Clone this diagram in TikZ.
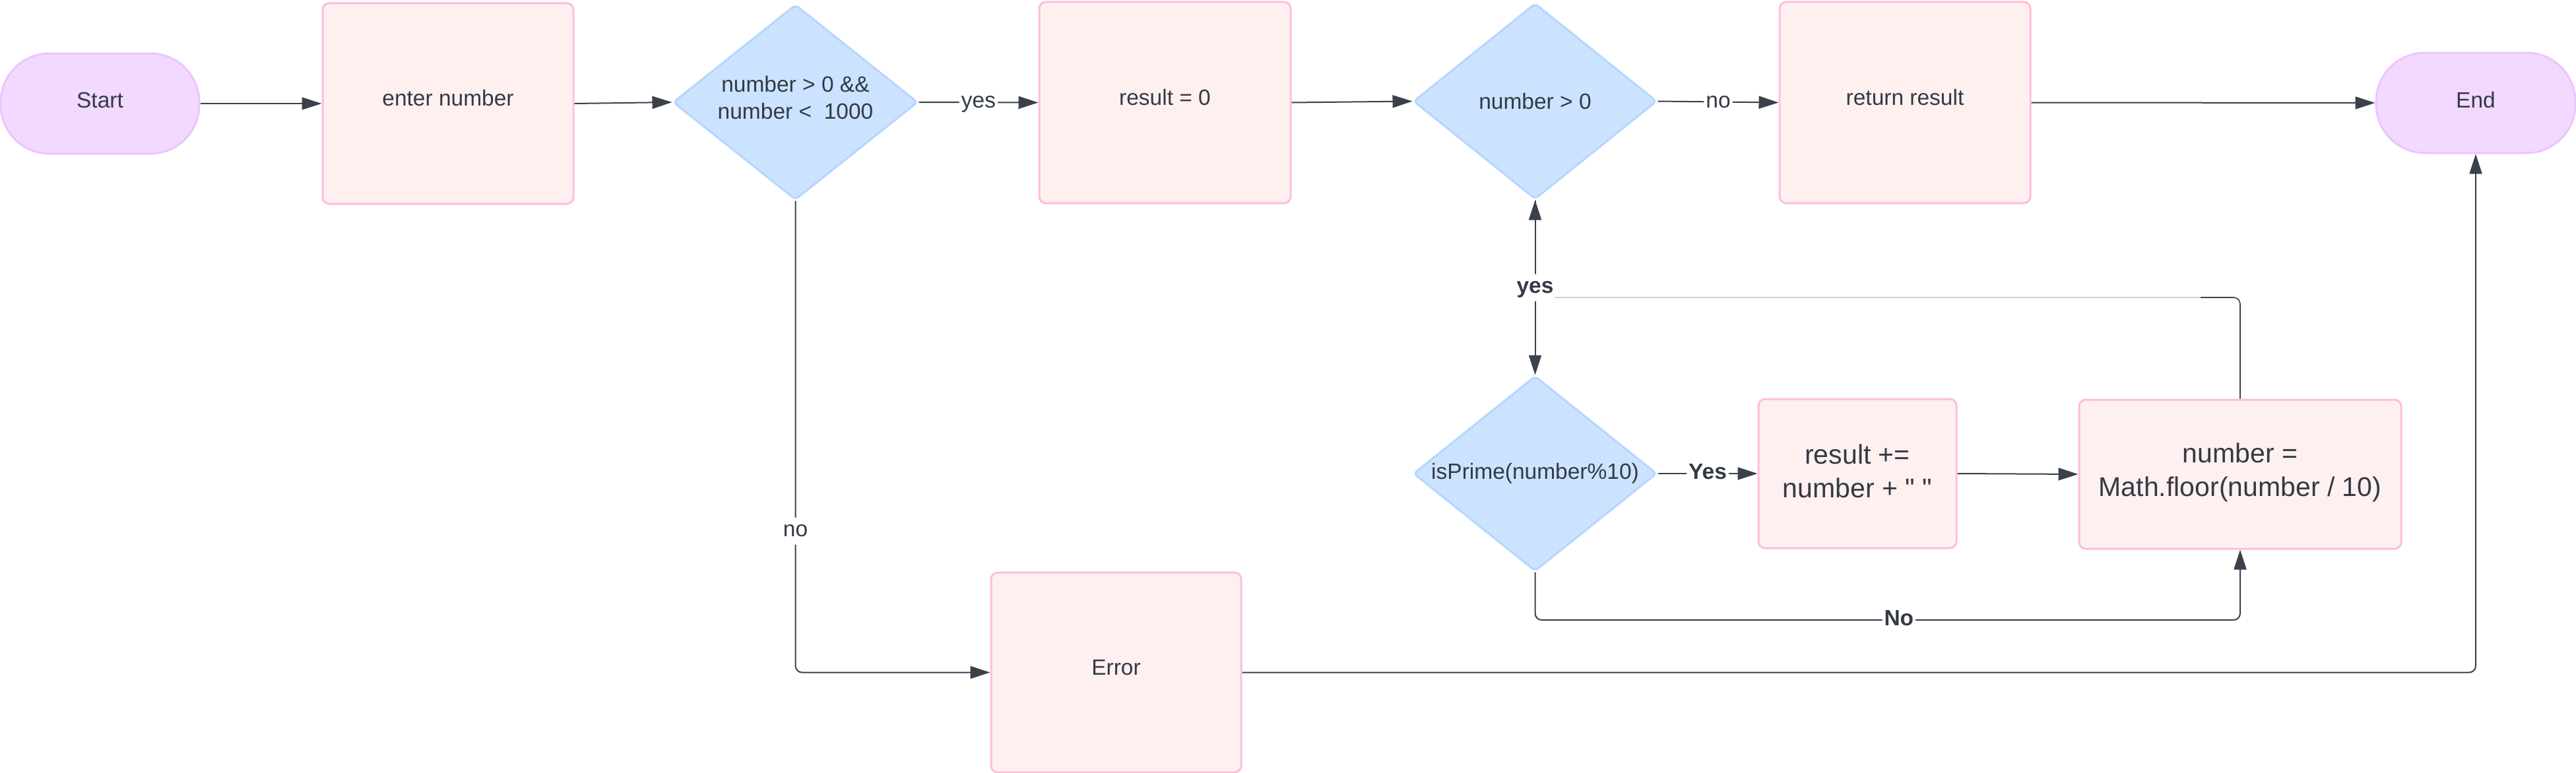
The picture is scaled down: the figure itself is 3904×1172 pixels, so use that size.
\documentclass[tikz,border=0pt]{standalone}
\usepackage{fontspec}
\setmainfont{Liberation Sans}[Ligatures=TeXOff]
\usetikzlibrary{arrows.meta,shapes.geometric,calc}
\definecolor{txt}{HTML}{333A45}
\definecolor{linec}{HTML}{3A414A}
\definecolor{pinkf}{HTML}{FFF0F0}
\definecolor{pinkb}{HTML}{FFBDDA}
\definecolor{bluef}{HTML}{CCE3FF}
\definecolor{blueb}{HTML}{B5D6FF}
\definecolor{purf}{HTML}{F2D9FF}
\definecolor{purb}{HTML}{EDC4FF}
\definecolor{grayl}{HTML}{CFCFCF}
\newcommand{\dstrut}[1]{\rule[-#1pt]{0pt}{#1pt}}
\begin{document}
\begin{tikzpicture}[x=1pt,y=-1pt,
  base/.style={font=\fontsize{33.5}{41}\selectfont, text=txt, align=center, line width=3pt, inner sep=0pt},
  big/.style={font=\fontsize{41}{51}\selectfont},
  procbox/.style={base, rectangle, rounded corners=10pt, draw=pinkb, fill=pinkf},
  decis/.style={base, diamond, aspect=1.25, rounded corners=6pt, draw=blueb, fill=bluef},
  term/.style={base, rectangle, rounded corners=74pt, draw=purb, fill=purf},
  conn/.style={draw=linec, line width=2pt, -{Triangle[length=30pt,width=19pt]}, rounded corners=10pt},
  plainline/.style={draw=linec, line width=1.6pt, rounded corners=10pt},
  lbl/.style={fill=white, font=\fontsize{33.5}{41}\selectfont, text=txt, inner xsep=3pt, inner ysep=4pt, text height=25pt, text depth=8pt},
  lblb/.style={lbl, font=\fontsize{33.5}{41}\selectfont\bfseries}
]
\fill[white] (0,0) rectangle (3904,1172);
\useasboundingbox (0,0) rectangle (3904,1172);

% nodes
\node[term, minimum width=301pt, minimum height=152pt] (start) at (151.5,157) {Start\dstrut{10}};
\node[procbox, minimum width=380pt, minimum height=304pt] (enter) at (679,157) {enter number\dstrut{17}};
\node[decis, minimum width=371pt, minimum height=296pt] (d1) at (1205.5,155) {number > 0 \&\&\\number <\ \ 1000\dstrut{14}};
\node[procbox, minimum width=381pt, minimum height=305pt] (res0) at (1765.5,155.5) {result = 0\dstrut{16}};
\node[decis, minimum width=369pt, minimum height=297pt] (d2) at (2326.5,153.5) {number > 0};
\node[procbox, minimum width=380pt, minimum height=305pt] (ret) at (2887,155.5) {return result\dstrut{16}};
\node[term, minimum width=302pt, minimum height=152pt] (end) at (3752,156) {End\dstrut{10}};
\node[decis, minimum width=369pt, minimum height=296pt] (d3) at (2326.5,718) {isPrime(number\%10)};
\node[procbox, big, minimum width=300pt, minimum height=226pt] (radd) at (2815,718) {result +=\\number + " "\dstrut{8}};
\node[procbox, big, minimum width=488pt, minimum height=226pt] (mf) at (3395,719) {number =\\Math.floor(number / 10)\dstrut{14}};
\node[procbox, minimum width=379pt, minimum height=303pt] (err) at (1691.5,1019.5) {Error\dstrut{16}};

% connectors
\draw[conn, line width=1.5pt] (start.east) -- (enter.west);
\draw[conn] (enter.east) -- (d1.west);
\draw[conn] (d1.east) -- node[lbl]{yes} (res0.west);
\draw[conn] (res0.east) -- (d2.west);
\draw[conn] (d2.east) -- node[lbl]{no} (ret.west);
\draw[conn] (ret.east) -- (end.west);
\draw[conn] (d1.south) |- node[lbl,pos=0.35]{no} (err.west);
\draw[conn] (err.east) -| (end.south);

% loop back from number = Math.floor(...) to number > 0
\coordinate (loopM) at (3335,451);
\coordinate (loopL) at (2326.5,451);
\draw[plainline] (mf.north) |- (loopM);
\draw[grayl, line width=1.6pt] (loopM) -- (loopL);
\draw[conn] (loopL) -- (d2.south);

\draw[conn] (d2.south) -- node[lblb]{yes} (d3.north);
\draw[conn] (d3.east) -- node[lblb]{Yes} (radd.west);
\draw[conn] (radd.east) -- (mf.west);
\coordinate (noL) at (2326.5,940);
\draw[conn] (d3.south) -- (noL) -| node[lblb,pos=0.258]{No} (mf.south);
\end{tikzpicture}
\end{document}
